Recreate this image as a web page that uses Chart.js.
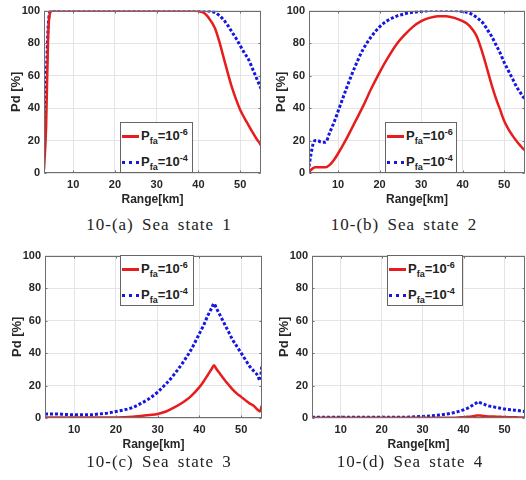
<!DOCTYPE html>
<html>
<head>
<meta charset="utf-8">
<script src="https://cdn.jsdelivr.net/npm/chart.js@4.4.0/dist/chart.umd.min.js"></script>
<style>
  html, body { margin: 0; padding: 0; background: #fff; overflow: hidden; }
  body { width: 526px; height: 480px; position: relative; font-family: "Liberation Sans", Arial, sans-serif; }
  canvas { position: absolute; }
  .cap { position: absolute; width: 300px; text-align: center; font-family: "Liberation Serif", "DejaVu Serif", serif;
         font-size: 17px; letter-spacing: 1px; word-spacing: 3px; color: #222; line-height: 22px; }
  .leg { position: absolute; height: 49px; border: 1px solid #666; background: #fff; font-weight: bold; font-size: 13px; color: #222; }
  .row { position: absolute; left: 1px; height: 16px; line-height: 16px; white-space: nowrap; }
  .ln { display: inline-block; width: 17px; margin-right: 2px; vertical-align: middle; }
  .solid { border-top: 3px solid rgb(232, 28, 28); }
  .dot { border-top: 3px dotted rgb(22, 22, 225); }
  .sb { font-size: 9px; position: relative; top: 4px; }
  .sp { font-size: 9px; position: relative; top: -5px; }
</style>
</head>
<body>
<script>
// range axis samples (km), shared by all four panels
const rangeKm = [3, 3.5, 4, 4.5, 5, 6, 7, 8, 9, 10, 12, 14, 16, 18, 20, 22, 24, 26, 28, 30,
  32, 34, 36, 38, 40, 41, 42, 43, 43.5, 44, 45, 46, 47, 48, 49, 50, 51, 52, 53, 54, 54.5, 55];
const xTicks = [10, 20, 30, 40, 50];
const yTicks = [0, 20, 40, 60, 80, 100];

// Pd [%] values, Pfa = 1e-6 (red) and 1e-4 (blue)
const ss1_pfa6 = [2, 28, 85, 99, 100, 100, 100, 100, 100, 100, 100, 100, 100, 100, 100, 100, 100, 100, 100, 100,
  100, 100, 100, 100, 99.7, 99, 97, 93.5, 91.5, 89, 81, 71.5, 62, 53, 45.5, 39, 34, 29.5, 25, 20.8, 19, 17];
const ss1_pfa4 = [15, 55, 90, 99.5, 100, 100, 100, 100, 100, 100, 100, 100, 100, 100, 100, 100, 100, 100, 100, 100,
  100, 100, 100, 100, 100, 100, 100, 99.5, 99.2, 98.8, 97, 94.5, 91, 87, 83, 78.5, 74, 70, 64, 58, 55, 52];

const ss2_pfa6 = [0.5, 2, 3, 3.5, 3.5, 3.5, 3.5, 5, 8, 12, 21, 31, 41, 52, 62, 71, 79, 85, 90, 93.5,
  95.5, 96.5, 96.5, 95.5, 93.5, 92, 89.5, 86, 83.5, 80, 72, 63, 54, 46, 39, 32, 27, 23, 19.5, 16.5, 15, 14];
const ss2_pfa4 = [4, 12, 18, 20, 20, 19, 19, 25, 31, 38, 52, 65, 76, 84, 90, 94, 96.5, 98, 99, 99.5,
  100, 100, 100, 100, 99.5, 99, 98, 96.5, 95.5, 94.5, 92, 88, 84, 79, 74, 68, 63, 58, 53, 49, 47, 46];

const ss3_pfa6 = [0.3, 0.3, 0.3, 0.3, 0.3, 0.3, 0.3, 0.3, 0.3, 0.3, 0.3, 0.3, 0.3, 0.3, 0.3, 0.5, 0.8, 1.2, 1.8, 2.5,
  4, 6.5, 9.5, 13.5, 19, 22.5, 26.5, 30.5, 32.5, 30.5, 27, 23.5, 20.5, 17.5, 15, 13, 11, 9, 7.5, 5, 4, 8];
const ss3_pfa4 = [2.5, 2.5, 2.5, 2.5, 2.5, 2.5, 2.3, 2.2, 2, 2, 2, 2, 2.5, 3, 4, 5, 6.5, 9, 12, 16,
  21, 27, 34, 42, 52, 57, 63, 68, 70.5, 68, 63, 58, 53, 48, 44, 40, 36, 32, 29, 26, 23, 33];

const ss4_pfa6 = [0.2, 0.2, 0.2, 0.2, 0.2, 0.2, 0.2, 0.2, 0.2, 0.2, 0.2, 0.2, 0.2, 0.2, 0.2, 0.2, 0.2, 0.2, 0.2, 0.2,
  0.2, 0.2, 0.2, 0.2, 0.5, 0.7, 1, 1.4, 1.6, 1.5, 1.2, 1, 0.9, 0.8, 0.7, 0.6, 0.5, 0.4, 0.4, 0.3, 0.3, 0.3];
const ss4_pfa4 = [0.5, 0.5, 0.5, 0.5, 0.5, 0.5, 0.5, 0.5, 0.5, 0.5, 0.5, 0.5, 0.5, 0.5, 0.5, 0.5, 0.5, 0.5, 0.7, 1,
  1.3, 1.8, 2.5, 3.5, 5, 6, 7.5, 9, 10, 9.5, 8.5, 7.5, 7, 6.5, 6, 5.5, 5.2, 5, 4.7, 4.3, 4.1, 4];

const captions = ['10-(a) Sea state 1', '10-(b) Sea state 2', '10-(c) Sea state 3', '10-(d) Sea state 4'];

// layout of each panel on the page
const panels = [
  { red: ss1_pfa6, blue: ss1_pfa4, left: 0,   top: 0,   w: 263, cap: [159, 225], leg: [120, 122, 71] },
  { red: ss2_pfa6, blue: ss2_pfa4, left: 265, top: 0,   w: 262, cap: [404, 225], leg: [385, 122, 70] },
  { red: ss3_pfa6, blue: ss3_pfa4, left: 1,   top: 245, w: 263, cap: [159, 462], leg: [120, 255, 72] },
  { red: ss4_pfa6, blue: ss4_pfa4, left: 268, top: 245, w: 259, cap: [410, 462], leg: [387, 255, 74] }
];

const FONT = 'Liberation Sans, Arial, sans-serif';
const RED = 'rgb(232, 28, 28)';
const BLUE = 'rgb(22, 22, 225)';

// MATLAB style box around the axes, with small inward tick marks
const boxPlugin = {
  id: 'box',
  afterDatasetsDraw(chart) {
    const a = chart.chartArea, ctx = chart.ctx;
    const L = Math.round(a.left) + 0.5, T = Math.round(a.top) + 0.5;
    const R = Math.round(a.right) - 0.5, B = Math.round(a.bottom) - 0.5;
    ctx.save();
    ctx.strokeStyle = '#6e6e6e';
    ctx.lineWidth = 1;
    ctx.strokeRect(L, T, R - L, B - T);
    ctx.beginPath();
    chart.scales.x.ticks.forEach(t => {
      const px = Math.round(chart.scales.x.getPixelForValue(t.value)) + 0.5;
      ctx.moveTo(px, B); ctx.lineTo(px, B - 2);
      ctx.moveTo(px, T); ctx.lineTo(px, T + 2);
    });
    chart.scales.y.ticks.forEach(t => {
      const py = Math.round(chart.scales.y.getPixelForValue(t.value)) + 0.5;
      ctx.moveTo(L, py); ctx.lineTo(L + 2, py);
      ctx.moveTo(R, py); ctx.lineTo(R - 2, py);
    });
    ctx.stroke();
    ctx.restore();
  }
};

panels.forEach(function (p, i) {
  const cv = document.createElement('canvas');
  cv.width = p.w; cv.height = 212;
  cv.style.left = p.left + 'px'; cv.style.top = p.top + 'px';
  document.body.appendChild(cv);

  new Chart(cv.getContext('2d'), {
    type: 'line',
    data: {
      datasets: [
        { data: rangeKm.map((x, k) => ({ x: x, y: p.red[k] })), borderColor: RED, borderWidth: 2.5,
          pointRadius: 0, cubicInterpolationMode: 'monotone' },
        { data: rangeKm.map((x, k) => ({ x: x, y: p.blue[k] })), borderColor: BLUE, borderWidth: 3,
          borderDash: [3, 2], pointRadius: 0, cubicInterpolationMode: 'monotone' }
      ]
    },
    options: {
      responsive: false,
      animation: false,
      layout: { padding: { left: 6, top: 10, right: 2, bottom: 0 } },
      plugins: { legend: { display: false }, tooltip: { enabled: false } },
      scales: {
        x: {
          type: 'linear', min: 3, max: 55,
          afterBuildTicks: s => { s.ticks = xTicks.map(v => ({ value: v })); },
          afterFit: s => { s.height = 39; },
          grid: { color: '#e4e4e4', drawTicks: false },
          border: { display: false },
          ticks: { font: { size: 11, weight: 'bold', family: FONT }, color: '#262626', padding: 5, maxRotation: 0 },
          title: { display: true, text: 'Range[km]', color: '#262626',
            font: { size: 12, weight: 'bold', family: FONT }, padding: { top: 0, bottom: 5 } }
        },
        y: {
          min: 0, max: 100,
          afterBuildTicks: s => { s.ticks = yTicks.map(v => ({ value: v })); },
          afterFit: s => { s.width = 38; },
          grid: { color: '#e4e4e4', drawTicks: false },
          border: { display: false },
          ticks: { font: { size: 11, weight: 'bold', family: FONT }, color: '#262626', padding: 4 },
          title: { display: true, text: 'Pd [%]', color: '#262626',
            font: { size: 13, weight: 'bold', family: FONT }, padding: { top: 3, bottom: 0 } }
        }
      }
    },
    plugins: [boxPlugin]
  });

  const cap = document.createElement('div');
  cap.className = 'cap';
  cap.textContent = captions[i];
  cap.style.left = (p.cap[0] - 150) + 'px';
  cap.style.top = (p.cap[1] - 11) + 'px';
  document.body.appendChild(cap);

  const leg = document.createElement('div');
  leg.className = 'leg';
  leg.style.left = p.leg[0] + 'px';
  leg.style.top = p.leg[1] + 'px';
  leg.style.width = p.leg[2] + 'px';
  leg.innerHTML =
    '<div class="row" style="top:5px"><span class="ln solid"></span>P<span class="sb">fa</span>=10<span class="sp">-6</span></div>' +
    '<div class="row" style="top:31px"><span class="ln dot"></span>P<span class="sb">fa</span>=10<span class="sp">-4</span></div>';
  document.body.appendChild(leg);
});
</script>
</body>
</html>
